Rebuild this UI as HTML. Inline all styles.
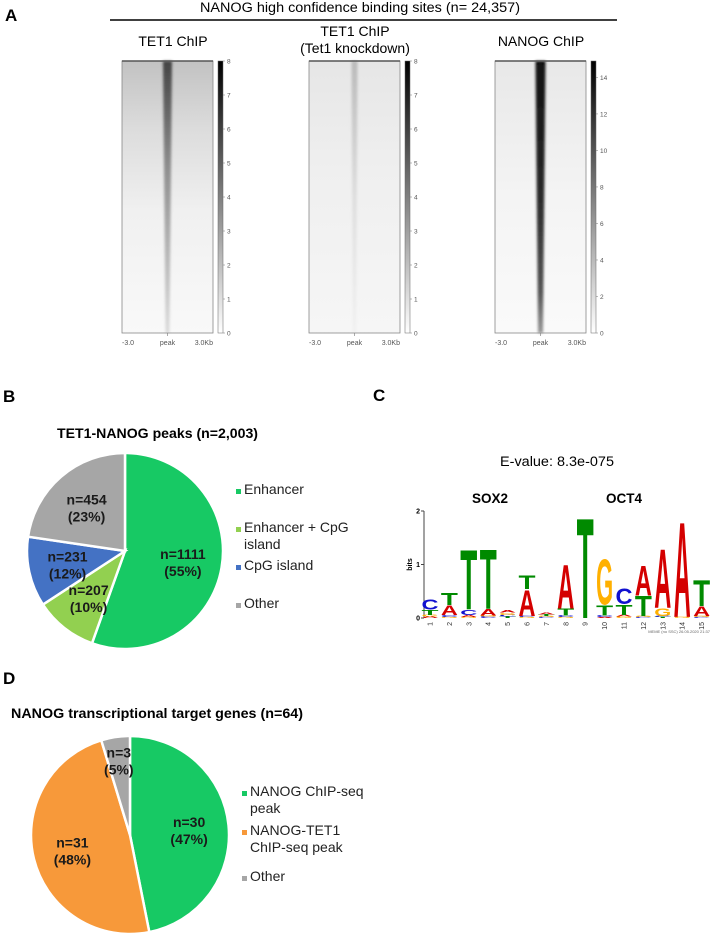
<!DOCTYPE html>
<html><head><meta charset="utf-8"><style>
html,body{margin:0;padding:0;background:#fff}
svg{display:block;font-family:"Liberation Sans",Arial,sans-serif}
</style></head><body>
<svg id="fig" width="713" height="935" viewBox="0 0 713 935" xmlns="http://www.w3.org/2000/svg">
<defs>
  <linearGradient id="bg1" x1="0" y1="0" x2="0" y2="1">
    <stop offset="0" stop-color="#c2c2c2"/><stop offset="0.25" stop-color="#dcdcdc"/><stop offset="0.55" stop-color="#f0f0f0"/><stop offset="1" stop-color="#f9f9f9"/>
  </linearGradient>
  <linearGradient id="bg2" x1="0" y1="0" x2="0" y2="1">
    <stop offset="0" stop-color="#e6e6e6"/><stop offset="0.4" stop-color="#efefef"/><stop offset="1" stop-color="#f6f6f6"/>
  </linearGradient>
  <linearGradient id="bg3" x1="0" y1="0" x2="0" y2="1">
    <stop offset="0" stop-color="#e8e8e8"/><stop offset="0.5" stop-color="#f4f4f4"/><stop offset="1" stop-color="#fafafa"/>
  </linearGradient>
  <linearGradient id="band1" x1="0" y1="0" x2="0" y2="1">
    <stop offset="0" stop-color="#444"/><stop offset="0.4" stop-color="#909090"/><stop offset="1" stop-color="#dcdcdc"/>
  </linearGradient>
  <linearGradient id="band2" x1="0" y1="0" x2="0" y2="1">
    <stop offset="0" stop-color="#bbb"/><stop offset="0.5" stop-color="#dedede"/><stop offset="1" stop-color="#f0f0f0"/>
  </linearGradient>
  <linearGradient id="band3" x1="0" y1="0" x2="0" y2="1">
    <stop offset="0" stop-color="#111"/><stop offset="0.5" stop-color="#2a2a2a"/><stop offset="0.85" stop-color="#555"/><stop offset="1" stop-color="#999"/>
  </linearGradient>
  <linearGradient id="cbar" x1="0" y1="1" x2="0" y2="0">
    <stop offset="0" stop-color="#fff"/><stop offset="1" stop-color="#000"/>
  </linearGradient>
  <filter id="blur" x="-50%" y="-5%" width="200%" height="110%"><feGaussianBlur stdDeviation="1.2"/></filter>
</defs>
<g id="panelA"></g>
<g id="panelB"></g>
<g id="panelC"></g>
<g id="panelD"></g>
</svg>
<script>
// ---------- data ----------
const heatTitles = ["TET1 ChIP", "TET1 ChIP|(Tet1 knockdown)", "NANOG ChIP"];
const cbarTicks1 = [0,1,2,3,4,5,6,7,8];
const cbarTicks2 = [0,1,2,3,4,5,6,7,8];
const cbarTicks3 = [0,2,4,6,8,10,12,14];
const cbarMax = [8, 8, 14.9];

const pieBCategories = ["Enhancer", "Enhancer + CpG island", "CpG island", "Other"];
const pieBValues = [1111, 207, 231, 454];
const pieBPercents = [55, 10, 12, 23];
const pieBColors = ["#17c964", "#92d050", "#4472c4", "#a6a6a6"];

const pieDCategories = ["NANOG ChIP-seq peak", "NANOG-TET1 ChIP-seq peak", "Other"];
const pieDValues = [30, 31, 3];
const pieDPercents = [47, 48, 5];
const pieDColors = ["#17c964", "#f7993a", "#a6a6a6"];

// motif logo: letters stacked bottom->top with heights in bits
const logoPositions = [1,2,3,4,5,6,7,8,9,10,11,12,13,14,15];
const logoLetters = [
  ["A","G","T","C"], ["G","C","A","T"], ["G","A","C","T"], ["C","G","A","T"], ["T","C","G","A"],
  ["G","C","A","T"], ["C","G","T","A"], ["G","C","T","A"], ["T"], ["A","C","T","G"],
  ["G","A","T","C"], ["C","G","T","A"], ["T","C","G","A"], ["G","A"], ["C","G","A","T"]
];
const logoHeights = [
  [0.03,0.03,0.1,0.2], [0.02,0.04,0.18,0.24], [0.02,0.04,0.1,1.15], [0.03,0.02,0.12,1.15], [0.03,0.03,0.04,0.05],
  [0.02,0.02,0.5,0.26], [0.02,0.02,0.03,0.04], [0.02,0.03,0.13,0.85], [1.93], [0.02,0.03,0.2,0.87],
  [0.03,0.03,0.2,0.3], [0.02,0.02,0.38,0.58], [0.02,0.02,0.15,1.14], [0.02,1.83], [0.02,0.02,0.18,0.5]
];
const logoYTicks = [0,1,2];

// ---------- helpers ----------
const NS = "http://www.w3.org/2000/svg";
function mk(tag, attrs, parent, txt){
  const e = document.createElementNS(NS, tag);
  for (const k in attrs) e.setAttribute(k, attrs[k]);
  if (txt !== undefined) e.textContent = txt;
  parent.appendChild(e);
  return e;
}
const A = document.getElementById("panelA");
const B = document.getElementById("panelB");
const C = document.getElementById("panelC");
const D = document.getElementById("panelD");

// ---------- Panel A ----------
let t = mk("text",{x:5,y:21,"font-size":17,"font-weight":"bold"},A,"A");


t = mk("text",{x:360,y:12,"font-size":13.5,"text-anchor":"middle",textLength:320,lengthAdjust:"spacingAndGlyphs"},A,"NANOG high confidence binding sites (n= 24,357)");


t = mk("line",{x1:110,y1:20,x2:617,y2:20,stroke:"#000","stroke-width":1.6},A);



const hmX = [122, 309, 495];
const hmW = 91, hmTop = 61, hmBot = 333;
const bgIds = ["bg1","bg2","bg3"], bandIds = ["band1","band2","band3"];
const bandW = [[4.5,2],[3,1.5],[5,2.5]];
const tickSets = [cbarTicks1, cbarTicks2, cbarTicks3];
const titleX = [173, 355, 541];
for (let i=0;i<3;i++){
  const g = mk("g",{},A);
  
  
  const x = hmX[i], cx = x + hmW/2;
  const lines = heatTitles[i].split("|");
  lines.forEach((ln,j)=>{
    const tt = mk("text",{x:titleX[i],y:lines.length>1 ? 36+j*17 : 46,"font-size":14,"text-anchor":"middle"},g,ln);
    
    
  });
  mk("rect",{x:x,y:hmTop,width:hmW,height:hmBot-hmTop,fill:"url(#"+bgIds[i]+")"},g);
  const w0 = bandW[i][0], w1 = bandW[i][1];
  const band = mk("polygon",{points:`${cx-w0},${hmTop} ${cx+w0},${hmTop} ${cx+w1},${hmBot} ${cx-w1},${hmBot}`,fill:"url(#"+bandIds[i]+")",filter:"url(#blur)"},g);
  
  
  mk("rect",{x:x,y:hmTop,width:hmW,height:hmBot-hmTop,fill:"none",stroke:"#888","stroke-width":0.8},g);
  mk("line",{x1:x,y1:hmTop,x2:x+hmW,y2:hmTop,stroke:"#555","stroke-width":1.5},g);
  [["-3.0",x,"start"],["peak",cx,"middle"],["3.0Kb",x+hmW,"end"]].forEach(l=>{
    const lt = mk("text",{x:l[1],y:345,"font-size":7,fill:"#555","text-anchor":l[2]},g,l[0]);
    
    
  });
  mk("line",{x1:cx,y1:hmBot,x2:cx,y2:hmBot+3,stroke:"#888","stroke-width":0.7},g);
  const cbx = x + hmW + 5;
  const cb = mk("rect",{x:cbx,y:hmTop,width:5,height:hmBot-hmTop,fill:"url(#cbar)",stroke:"#666","stroke-width":0.5},g);
  
  
  const yS = v => hmBot - v/cbarMax[i]*(hmBot-hmTop);
  tickSets[i].forEach(v=>{
    mk("line",{x1:cbx+5,y1:yS(v),x2:cbx+7,y2:yS(v),stroke:"#777","stroke-width":0.5},g);
    const ct = mk("text",{x:cbx+9,y:yS(v)+2.5,"font-size":6.5,fill:"#555"},g,String(v));
    
    
  });
}

// ---------- Pie helper ----------
function pie(parent, cx, cy, r, values, colors, percents, nameP){
  const total = values.reduce((a,b)=>a+b,0);
  let a0 = 0;
  values.forEach((v,i)=>{
    const a1 = a0 + v/total*2*Math.PI;
    const p0 = [cx + r*Math.sin(a0), cy - r*Math.cos(a0)];
    const p1 = [cx + r*Math.sin(a1), cy - r*Math.cos(a1)];
    const large = (a1-a0) > Math.PI ? 1 : 0;
    const s = mk("path",{d:`M${cx},${cy} L${p0[0]},${p0[1]} A${r},${r} 0 ${large} 1 ${p1[0]},${p1[1]} Z`,fill:colors[i],stroke:"#fff","stroke-width":2.5},parent);
    
    
    a0 = a1;
  });
  a0 = 0;
  values.forEach((v,i)=>{
    const a1 = a0 + v/total*2*Math.PI;
    const am = (a0+a1)/2;
    const frac = v/total < 0.08 ? 0.77 : 0.6;
    const lx = cx + r*frac*Math.sin(am), ly = cy - r*frac*Math.cos(am);
    const l1 = mk("text",{x:lx,y:ly-2,"font-size":14,"font-weight":"bold","text-anchor":"middle",fill:"#1a1a1a"},parent,"n="+v);
    
    
    const l2 = mk("text",{x:lx,y:ly+15,"font-size":14,"font-weight":"bold","text-anchor":"middle",fill:"#1a1a1a"},parent,"("+percents[i]+"%)");
    
    
    a0 = a1;
  });
}
function legend(parent, x, ys, cats, colors, splitAt, nameP){
  cats.forEach((c,i)=>{
    const g = mk("g",{},parent);
    
    
    mk("rect",{x:x,y:ys[i]-5,width:5,height:5,fill:colors[i]},g);
    const parts = splitAt[i] ? [c.slice(0,splitAt[i]).trim(), c.slice(splitAt[i]).trim()] : [c];
    parts.forEach((p,j)=>{
      mk("text",{x:x+8,y:ys[i]+j*17,"font-size":14,fill:"#222"},g,p);
    });
  });
}

// ---------- Panel B ----------
t = mk("text",{x:3,y:402,"font-size":17,"font-weight":"bold"},B,"B");


t = mk("text",{x:57,y:438,"font-size":14,"font-weight":"bold",textLength:201,lengthAdjust:"spacingAndGlyphs"},B,"TET1-NANOG peaks (n=2,003)");


pie(B, 125, 551, 98, pieBValues, pieBColors, pieBPercents, 'pie-b');
legend(B, 236, [494, 532, 570, 608], pieBCategories, pieBColors, [0,15,0,0], 'pie-b');

// ---------- Panel D ----------
t = mk("text",{x:3,y:684,"font-size":17,"font-weight":"bold"},D,"D");


t = mk("text",{x:11,y:718,"font-size":14,"font-weight":"bold",textLength:292,lengthAdjust:"spacingAndGlyphs"},D,"NANOG transcriptional target genes (n=64)");


pie(D, 130, 835, 99, pieDValues, pieDColors, pieDPercents, 'pie-d');
legend(D, 242, [796, 835, 881], pieDCategories, pieDColors, [14, 10, 0], 'pie-d');

// ---------- Panel C (motif logo) ----------
t = mk("text",{x:373,y:401,"font-size":17,"font-weight":"bold"},C,"C");


t = mk("text",{x:557,y:466,"font-size":13.5,"text-anchor":"middle",textLength:114,lengthAdjust:"spacingAndGlyphs"},C,"E-value: 8.3e-075");


t = mk("text",{x:490,y:503,"font-size":13.5,"font-weight":"bold","text-anchor":"middle"},C,"SOX2");


t = mk("text",{x:624,y:503,"font-size":13.5,"font-weight":"bold","text-anchor":"middle"},C,"OCT4");



const logoBase = 618, bitPx = 53.5, logoX0 = 430, logoStep = 19.4, letterW = 17;
const yBits = b => logoBase - b*bitPx;
const xPos = p => logoX0 + (p-1)*logoStep;
const letterColor = {A:"#d40000",C:"#1010d0",G:"#ffb000",T:"#008a00"};
mk("line",{x1:424,y1:yBits(2),x2:424,y2:logoBase,stroke:"#444","stroke-width":1},C);
logoYTicks.forEach(v=>{
  mk("line",{x1:421,y1:yBits(v),x2:424,y2:yBits(v),stroke:"#444","stroke-width":1},C);
  const yt = mk("text",{x:420,y:yBits(v)+2.5,"font-size":7,"font-weight":"bold","text-anchor":"end"},C,String(v));
  
  
});
t = mk("text",{x:0,y:0,"font-size":7,"font-weight":"bold","text-anchor":"middle",transform:`translate(412,${yBits(1)}) rotate(-90)`},C,"bits");


logoPositions.forEach((p,i)=>{
  const cx = xPos(p);
  let acc = 0;
  logoLetters[i].forEach((L,j)=>{
    const h = logoHeights[i][j];
    const yb = yBits(acc);
    acc += h;
    const hp = h*bitPx;
    const lt = mk("text",{x:0,y:0,"font-size":100,"font-weight":"bold",fill:letterColor[L],textLength:letterW,lengthAdjust:"spacingAndGlyphs",transform:`translate(${cx-letterW/2},${yb}) scale(1,${hp/72})`},C,L);
    
    
  });
  const pl = mk("text",{x:0,y:0,"font-size":7,"text-anchor":"end",fill:"#333",transform:`translate(${cx+2.5},${logoBase+4}) rotate(-90)`},C,String(p));
  
  
});
t = mk("text",{x:710,y:633,"font-size":4,fill:"#666","text-anchor":"end"},C,"MEME (no SSC) 26.05.2020 21:37");


</script>
</body></html>
